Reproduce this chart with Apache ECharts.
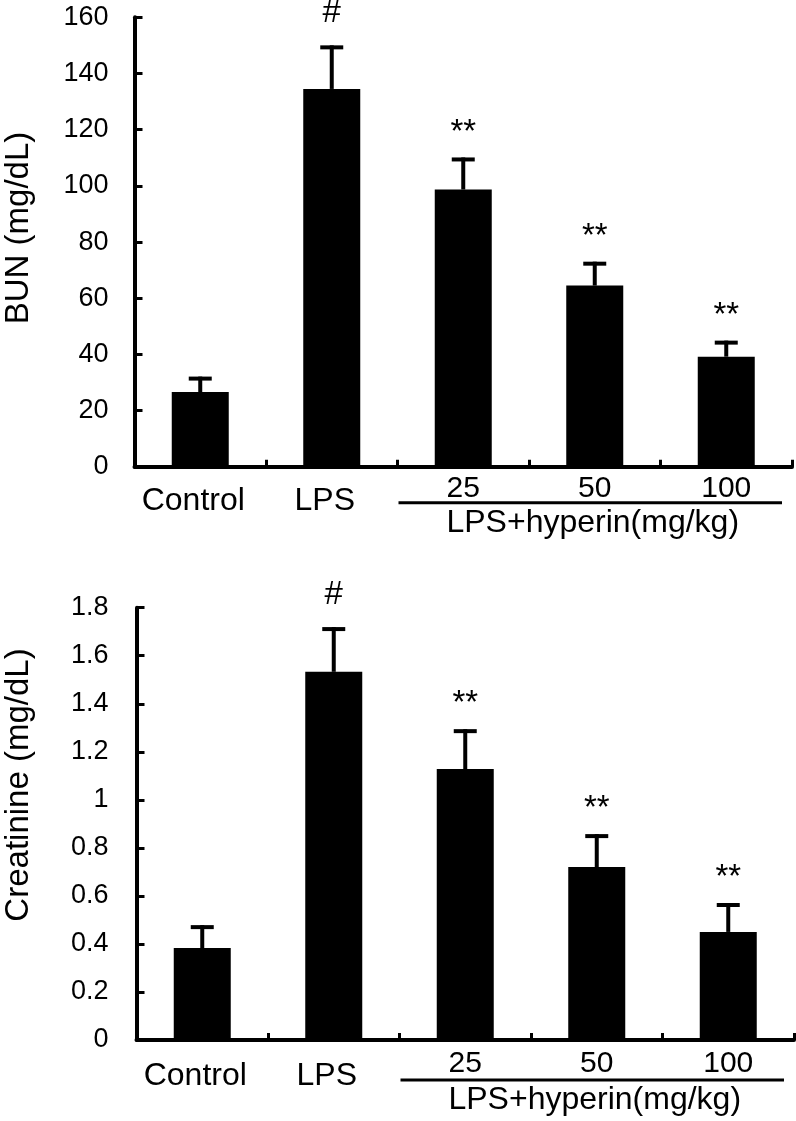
<!DOCTYPE html>
<html><head><meta charset="utf-8">
<script src="https://cdn.jsdelivr.net/npm/echarts@6/dist/echarts.min.js"></script>
<style>html,body{margin:0;padding:0;background:#fff}#c{width:796px;height:1121px}</style>
</head><body><div id="c"></div>
<script>
// ---- data ----
const categories = ['Control', 'LPS', '25', '50', '100'];
const bunMean = [26.6, 134.5, 98.7, 64.5, 39.2];
const bunErr  = [4.8, 14.8, 10.7, 7.8, 5.0];
const creMean = [0.383, 1.533, 1.128, 0.720, 0.450];
const creErr  = [0.087, 0.178, 0.158, 0.129, 0.112];
const bunSig = ['', '#', '**', '**', '**'];
const creSig = ['', '#', '**', '**', '**'];
const bunAxis = { min: 0, max: 160, interval: 20 };
const creAxis = { min: 0, max: 1.8, interval: 0.2 };
const bunTitle = 'BUN (mg/dL)';
const creTitle = 'Creatinine (mg/dL)';
const groupLabel = 'LPS+hyperin(mg/kg)';

// ---- styling ----
const FONT = '"Liberation Sans", Arial, Helvetica, sans-serif';
const chart = echarts.init(document.getElementById('c'), null, { renderer: 'canvas' });

const grids = [
  { left: 134.5, top: 17.3, width: 657.5, height: 449.5 },
  { left: 136.5, top: 607.7, width: 657.5, height: 432.3 }
];

function xAxisFor(gi, labelMargin) {
  return {
    type: 'category', gridIndex: gi, data: categories,
    axisLine: { show: true, lineStyle: { color: '#000', width: 4 } },
    axisTick: { show: true, inside: true, length: 7, lineStyle: { color: '#000', width: 3 } },
    axisLabel: {
      margin: labelMargin, color: '#000', fontFamily: FONT, interval: 0,
      formatter: (v, i) => (i < 2 ? '{a|' + v + '}' : '{b|' + v + '}'),
      rich: {
        a: { fontSize: 32, lineHeight: 40, padding: [13, 14, 0, 0], fontFamily: FONT, color: '#000' },
        b: { fontSize: 30, lineHeight: 28, fontFamily: FONT, color: '#000' }
      }
    },
    splitLine: { show: false }
  };
}
function yAxisFor(gi, ax, margin) {
  return {
    type: 'value', gridIndex: gi, min: ax.min, max: ax.max, interval: ax.interval,
    axisLine: { show: true, lineStyle: { color: '#000', width: 4 } },
    axisTick: { show: true, inside: true, length: 8, lineStyle: { color: '#000', width: 3 } },
    axisLabel: { margin: margin, color: '#000', fontSize: 27, fontFamily: FONT },
    splitLine: { show: false }
  };
}

function errSeries(gi, means, errs, sigs) {
  return {
    type: 'custom', xAxisIndex: gi, yAxisIndex: gi, z: 5,
    data: means.map((m, i) => [i, m, errs[i]]),
    renderItem: function (params, api) {
      const i = api.value(0), m = api.value(1), e = api.value(2);
      const base = api.coord([i, m]);
      const top = api.coord([i, m + e]);
      const capHalf = 11.5;
      const children = [
        { type: 'line', shape: { x1: base[0], y1: base[1], x2: top[0], y2: top[1] - 2 }, style: { stroke: '#000', lineWidth: 4 } },
        { type: 'line', shape: { x1: top[0] - capHalf, y1: top[1], x2: top[0] + capHalf, y2: top[1] }, style: { stroke: '#000', lineWidth: 4 } }
      ];
      const s = sigs[params.dataIndex];
      if (s) {
        children.push({
          type: 'text', x: top[0], y: top[1] - (s === '#' ? 34 : 27),
          style: { text: s, fill: '#000', fontSize: 33, fontFamily: FONT, align: 'center', verticalAlign: 'middle' }
        });
      }
      return { type: 'group', children: children };
    }
  };
}

chart.setOption({
  animation: false,
  backgroundColor: '#fff',
  grid: grids,
  xAxis: [xAxisFor(0, 8), xAxisFor(1, 10)],
  yAxis: [yAxisFor(0, bunAxis, 26), yAxisFor(1, creAxis, 28)],
  series: [
    { type: 'bar', xAxisIndex: 0, yAxisIndex: 0, data: bunMean, barWidth: 57, itemStyle: { color: '#000' } },
    errSeries(0, bunMean, bunErr, bunSig),
    { type: 'bar', xAxisIndex: 1, yAxisIndex: 1, data: creMean, barWidth: 57, itemStyle: { color: '#000' } },
    errSeries(1, creMean, creErr, creSig)
  ]
});

// ---- annotations derived from axes ----
const graphics = [];
const titles = [bunTitle, creTitle];
const titleCenters = [228, 785];
[0, 1].forEach(function (gi) {
  const c2 = chart.convertToPixel({ xAxisIndex: gi }, 2);
  const c3 = chart.convertToPixel({ xAxisIndex: gi }, 3);
  const c4 = chart.convertToPixel({ xAxisIndex: gi }, 4);
  const band = c3 - c2;
  const axisY = chart.convertToPixel({ yAxisIndex: gi }, 0);
  const lineY = axisY + (gi === 0 ? 36 : 40);
  graphics.push({
    type: 'line', shape: { x1: c2 - band / 2 + 1, y1: lineY, x2: c4 + band / 2 - 10, y2: lineY },
    style: { stroke: '#000', lineWidth: 3 }
  });
  graphics.push({
    type: 'text', x: c3 - 2, y: lineY + 4,
    style: { text: groupLabel, fill: '#000', fontSize: 32, fontFamily: FONT, align: 'center', verticalAlign: 'top' }
  });
  graphics.push({
    type: 'text', x: 19, y: titleCenters[gi], rotation: Math.PI / 2,
    style: { text: titles[gi], fill: '#000', fontSize: 33, fontFamily: FONT, align: 'center', verticalAlign: 'middle' }
  });
});
chart.setOption({ graphic: graphics });
</script>
</body></html>
